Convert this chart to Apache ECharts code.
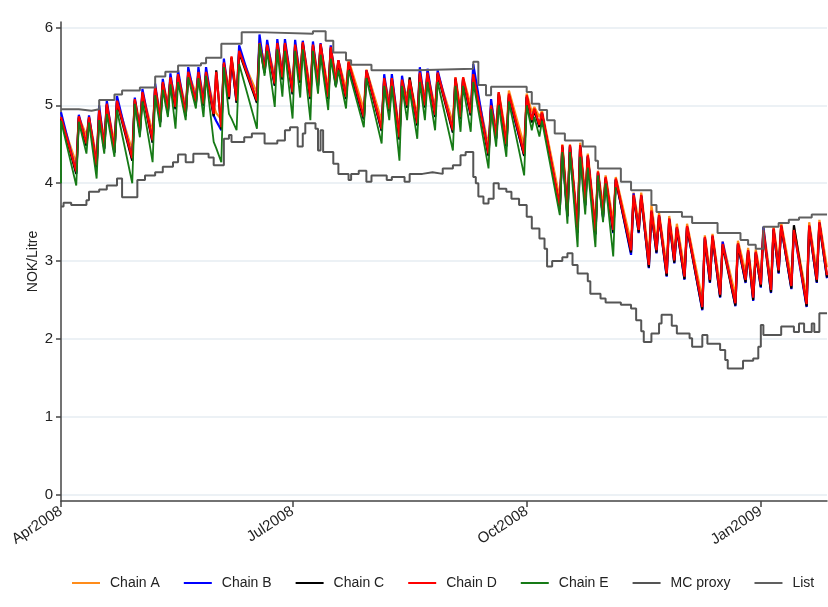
<!DOCTYPE html>
<html><head><meta charset="utf-8">
<script src="https://cdn.jsdelivr.net/npm/echarts@6/dist/echarts.min.js"></script>
<style>html,body{margin:0;padding:0;background:#fff}#c{width:828px;height:607px}</style>
</head><body><div id="c"></div>
<script>
// x values are days since 1 April 2008
const tickDays = [0, 91, 183, 275];
const tickLabels = ['Apr2008', 'Jul2008', 'Oct2008', 'Jan2009'];
const yTicks = [0, 1, 2, 3, 4, 5, 6];

const peakDays = [0,7,11,15,18,22,29,32,37,40,43,46,50,54,57,61,64,67,70,78,81,85,88,92,95,99,102,106,109,113,120,127,130,134,137,141,144,148,155,158,162,169,172,176,183,186,189,197,200,204,207,211,214,218,225,228,232,235,239,242,246,253,256,260,266,270,273,276,280,283,288,294,298];
const troughDays = [6,10,14,17,21,28,31,36,39,42,45,49,53,56,60,63,66,69,77,80,84,87,91,94,98,101,105,108,112,119,126,129,133,136,140,143,147,154,157,161,168,171,175,182,185,188,196,199,203,206,210,213,217,224,227,231,234,238,241,245,252,255,259,265,269,272,275,279,282,287,293,297,301];

const chainAPeaks = [4.84,4.85,4.84,4.93,5.01, 5.05,5.07,5.16,5.23,5.29, 5.35,5.39,5.42,5.42,5.42, 4.90,5.54,5.62,5.69,5.79, 5.77,5.79,5.79,5.77,5.80, 5.77,5.78,5.74,5.58,5.58, 5.46,5.35,5.35,5.33,5.33, 5.41,5.41,5.41,5.36,5.36, 5.40,5.02,5.17,5.19,5.15, 4.98,4.93,4.50,4.50,4.52, 4.38,4.16,4.10,4.08,3.88, 3.88,3.72,3.62,3.58,3.48, 3.48,3.33,3.35,3.25,3.26, 3.17,3.15,3.43,3.45,3.49, 3.43,3.50,3.53];
const chainATroughs = [4.25,4.61,4.33,4.57,4.52, 4.42,4.78,4.65,4.91,5.04, 5.08,4.99,5.15,5.12,4.99, 4.82,5.21,5.16,5.16,5.55, 5.38,5.46,5.27,5.42,5.21, 5.38,5.21,5.38,5.21,4.95, 4.80,5.05,4.69,5.10,4.87, 5.10,4.98,4.78,4.95,5.00, 4.48,4.70,4.60,4.48,4.91, 4.85,3.80,3.71,3.50,3.85, 3.48,3.70,3.50,3.24,3.50, 3.05,3.24,2.94,3.11,2.90, 2.51,2.86,2.67,2.56,2.86, 2.63,2.80,2.73,2.98,2.78, 2.55,2.86,2.92];

const chainBPeaks = [4.91,4.88,4.87,5.00,5.06, 5.12,5.10,5.21,5.28,5.34, 5.41,5.45,5.49,5.49,5.49, 4.80,5.60,5.60,5.77,5.91, 5.84,5.85,5.85,5.84,5.83, 5.82,5.80,5.77,5.58,5.50, 5.45,5.40,5.40,5.38,5.30, 5.49,5.47,5.45,5.33,5.33, 5.53,5.08,5.10,5.10,5.10, 4.95,4.90,4.45,4.48,4.48, 4.35,4.14,4.06,4.05,3.87, 3.84,3.64,3.58,3.54,3.43, 3.44,3.30,3.32,3.25,3.22, 3.13,3.11,3.44,3.41,3.45, 3.40,3.45,3.49];
const chainBTroughs = [4.13,4.49,4.21,4.45,4.40, 4.30,4.66,4.53,4.79,4.92, 4.96,4.87,5.03,5.00,4.87, 4.68,5.09,5.04,5.04,5.43, 5.26,5.34,5.15,5.30,5.09, 5.26,5.09,5.26,5.09,4.83, 4.68,4.93,4.57,4.98,4.75, 4.98,4.86,4.66,4.83,4.88, 4.36,4.58,4.48,4.36,4.79, 4.73,3.68,3.57,3.36,3.71, 3.34,3.56,3.36,3.08,3.36, 2.91,3.10,2.80,2.97,2.76, 2.37,2.72,2.53,2.42,2.72, 2.49,2.66,2.59,2.84,2.64, 2.41,2.72,2.78];

const chainCPeaks = [4.83,4.84,4.83,4.92,5.00, 5.04,5.06,5.15,5.22,5.28, 5.34,5.38,5.41,5.41,5.41, 5.45,5.53,5.61,5.68,5.78, 5.76,5.78,5.78,5.76,5.79, 5.76,5.77,5.73,5.56,5.54, 5.43,5.33,5.33,5.31,5.36, 5.40,5.40,5.40,5.34,5.34, 5.38,4.98,5.15,5.13,5.11, 4.94,4.89,4.47,4.47,4.47, 4.34,4.13,4.06,4.04,3.83, 3.83,3.63,3.57,3.53,3.42, 3.43,3.29,3.31,3.20,3.21, 3.12,3.10,3.38,3.40,3.44, 3.46,3.44,3.48];
const chainCTroughs = [4.12,4.48,4.20,4.44,4.39, 4.29,4.65,4.52,4.78,4.91, 4.95,4.86,5.02,4.99,4.86, 4.69,5.08,5.03,5.03,5.42, 5.25,5.33,5.14,5.29,5.08, 5.25,5.08,5.25,5.08,4.82, 4.67,4.92,4.56,4.97,4.74, 4.97,4.85,4.65,4.82,4.87, 4.35,4.57,4.47,4.35,4.78, 4.72,3.67,3.58,3.37,3.72, 3.35,3.57,3.37,3.11,3.37, 2.92,3.11,2.81,2.98,2.77, 2.38,2.73,2.54,2.43,2.73, 2.50,2.67,2.60,2.85,2.65, 2.42,2.73,2.79];

const chainDPeaks = [4.85,4.86,4.85,4.94,5.02, 5.06,5.08,5.17,5.24,5.30, 5.36,5.40,5.43,5.43,5.43, 5.43,5.55,5.63,5.70,5.80, 5.78,5.80,5.80,5.78,5.81, 5.78,5.79,5.75,5.58,5.56, 5.45,5.35,5.35,5.33,5.33, 5.42,5.42,5.42,5.36,5.36, 5.40,5.00,5.17,5.15,5.13, 4.96,4.91,4.49,4.49,4.49, 4.36,4.15,4.08,4.06,3.85, 3.85,3.65,3.59,3.55,3.44, 3.45,3.31,3.33,3.22,3.23, 3.14,3.12,3.40,3.42,3.46, 3.40,3.46,3.50];
const chainDTroughs = [4.15,4.51,4.23,4.47,4.42, 4.32,4.68,4.55,4.81,4.94, 4.98,4.89,5.05,5.02,4.89, 4.72,5.11,5.06,5.06,5.45, 5.28,5.36,5.17,5.32,5.11, 5.28,5.11,5.28,5.11,4.85, 4.70,4.95,4.59,5.00,4.77, 5.00,4.88,4.68,4.85,4.90, 4.38,4.60,4.50,4.38,4.81, 4.75,3.70,3.61,3.40,3.75, 3.38,3.60,3.40,3.14,3.40, 2.95,3.14,2.84,3.01,2.80, 2.41,2.76,2.57,2.46,2.76, 2.53,2.70,2.63,2.88,2.68, 2.45,2.76,2.82];

const chainEStart = 4.00;
const chainEPeaks = [4.80,4.79,4.78,4.81,4.89, 4.94,5.02,5.05,5.13,5.20, 5.27,5.30,5.36,5.35,5.38, 4.45,5.49,4.83,5.53,5.79, 5.70,5.72,5.70,5.70,5.72, 5.70,5.65,5.60,5.45,5.45, 5.35,5.25,5.25,5.25,5.20, 5.30,5.30,5.30,5.25,5.25, 5.30,4.95,5.00,5.05,5.00, 4.85,4.80,4.40,4.40,4.34, 4.20,4.10,4.00,3.95];
const chainETroughs = [3.97,4.38,4.06,4.38,4.34, 4.00,4.59,4.27,4.72,4.85, 4.70,4.81,4.96,4.85,4.53, 4.27,4.89,4.68,4.70,5.38, 4.98,5.11,4.83,5.10,4.81, 5.15,4.94,5.23,4.96,4.72, 4.51,4.81,4.29,4.81,4.57, 4.81,4.68,4.42,4.66,4.66, 4.19,4.47,4.34,4.10,4.68, 4.60,3.59,3.48,3.18,3.60, 3.18,3.50,3.06];

const mcDays = [0,1,4,10,11,15,18,22,24,30,33,37,40,44,46,49,52,58,60,64,66,67,72,75,80,85,88,90,93,95,96,100,101,102,103,107,109,113,114,117,120,122,128,130,135,137,142,146,150,154,157,159,162,163,164,166,168,170,172,175,177,180,183,185,188,190,191,193,197,199,201,203,207,208,212,214,220,224,226,228,229,232,235,236,240,242,247,248,252,254,259,261,262,268,272,274,275,276,283,288,290,292,295,296,298,301];
const mcValues = [3.70,3.75,3.72,3.78,3.89,3.92,3.97,4.06,3.82,4.04,4.10,4.14,4.21,4.27,4.37,4.27,4.38,4.33,4.23,4.57,4.62,4.53,4.59,4.64,4.51,4.55,4.68,4.72,4.47,4.64,4.77,4.70,4.42,4.68,4.40,4.25,4.12,4.04,4.12,4.16,4.02,4.10,4.04,4.08,4.02,4.12,4.14,4.12,4.19,4.23,4.36,4.40,4.08,4.00,3.83,3.74,3.80,4.00,3.93,3.89,3.80,3.72,3.57,3.42,3.29,3.16,2.93,3.00,3.05,3.10,2.95,2.84,2.74,2.58,2.52,2.47,2.44,2.39,2.24,2.10,1.96,2.07,2.20,2.31,2.17,2.07,2.01,1.90,2.05,1.94,1.86,1.73,1.62,1.72,1.75,1.90,2.18,2.05,2.16,2.09,2.20,2.09,2.20,2.09,2.33,2.33];

const listDays = [0,7,12,15,21,24,31,37,41,46,55,57,63,71,77,99,104,107,112,114,122,140,162,164,167,169,183,185,188,191,194,198,205,210,211,220,224,232,234,244,248,258,267,270,273,276,282,286,290,295,301];
const listValues = [4.95,4.93,4.95,5.07,5.14,5.19,5.23,5.37,5.43,5.51,5.54,5.61,5.79,5.94,5.92,5.95,5.83,5.68,5.58,5.52,5.45,5.47,5.56,5.26,5.13,5.24,5.17,5.02,4.94,4.81,4.64,4.55,4.47,4.29,4.19,4.02,3.91,3.72,3.63,3.57,3.49,3.36,3.27,3.21,3.16,3.44,3.49,3.53,3.56,3.60,3.60];

function sawtooth(peaks, troughs, start) {
  const pts = [];
  if (start !== undefined) pts.push([peakDays[0], start]);
  for (let i = 0; i < peaks.length; i++) {
    pts.push([peakDays[i], peaks[i]]);
    if (i < troughs.length) pts.push([troughDays[i], troughs[i]]);
  }
  return pts;
}
function pairs(days, vals) { return days.map((d, i) => [d, vals[i]]); }

const FONT = '"Liberation Sans", Arial, sans-serif';
function lineSeries(name, data, color, width, step) {
  return {
    name, type: 'line', data, step: step || false, symbol: 'none', showSymbol: false,
    lineStyle: { color, width }, itemStyle: { color }, silent: true,
    emphasis: { disabled: true }, animation: false
  };
}

const chart = echarts.init(document.getElementById('c'), null, { renderer: 'canvas' });
chart.setOption({
  animation: false,
  backgroundColor: '#ffffff',
  textStyle: { fontFamily: FONT },
  grid: { left: 61, right: 1, top: 22, bottom: 106 },
  xAxis: {
    type: 'value', min: 0, max: 301,
    axisLine: { show: true, onZero: false, lineStyle: { color: '#444', width: 1.5 } },
    axisTick: { show: true, customValues: tickDays, length: 6, lineStyle: { color: '#444', width: 1.5 } },
    axisLabel: {
      customValues: tickDays, rotate: 33, margin: 9, fontSize: 15, color: '#222', fontFamily: FONT,
      formatter: v => tickLabels[tickDays.indexOf(v)] || ''
    },
    splitLine: { show: false }
  },
  yAxis: {
    type: 'value', min: -0.08, max: 6.07,
    name: 'NOK/Litre', nameLocation: 'middle', nameGap: 21, nameMoveOverlap: false,
    nameTextStyle: { fontSize: 14, color: '#222', fontFamily: FONT },
    axisLine: { show: true, lineStyle: { color: '#444', width: 1.5 } },
    axisTick: { show: true, customValues: yTicks, length: 5, lineStyle: { color: '#444', width: 1.5 } },
    axisLabel: { customValues: yTicks, margin: 8, fontSize: 15, color: '#222', fontFamily: FONT },
    splitLine: { show: true, lineStyle: { color: '#e6edf2', width: 1.5 } }
  },
  legend: {
    left: 67, top: 571, itemWidth: 28, itemHeight: 2, itemGap: 24, icon: 'rect',
    textStyle: { fontSize: 14, color: '#222', fontFamily: FONT, padding: [0, 0, 0, 5] },
    selectedMode: false
  },
  series: [
    lineSeries('Chain A', sawtooth(chainAPeaks, chainATroughs), '#ff8c1a', 2.2),
    lineSeries('Chain B', sawtooth(chainBPeaks, chainBTroughs), '#0000ff', 2.2),
    lineSeries('Chain C', sawtooth(chainCPeaks, chainCTroughs), '#000000', 2.2),
    lineSeries('Chain D', sawtooth(chainDPeaks, chainDTroughs), '#ff0000', 2.2),
    lineSeries('Chain E', sawtooth(chainEPeaks, chainETroughs, chainEStart), '#167a16', 1.8),
    lineSeries('MC proxy', pairs(mcDays, mcValues), '#555555', 2, 'end'),
    lineSeries('List', pairs(listDays, listValues), '#606060', 2, 'end')
  ]
});
</script></body></html>
